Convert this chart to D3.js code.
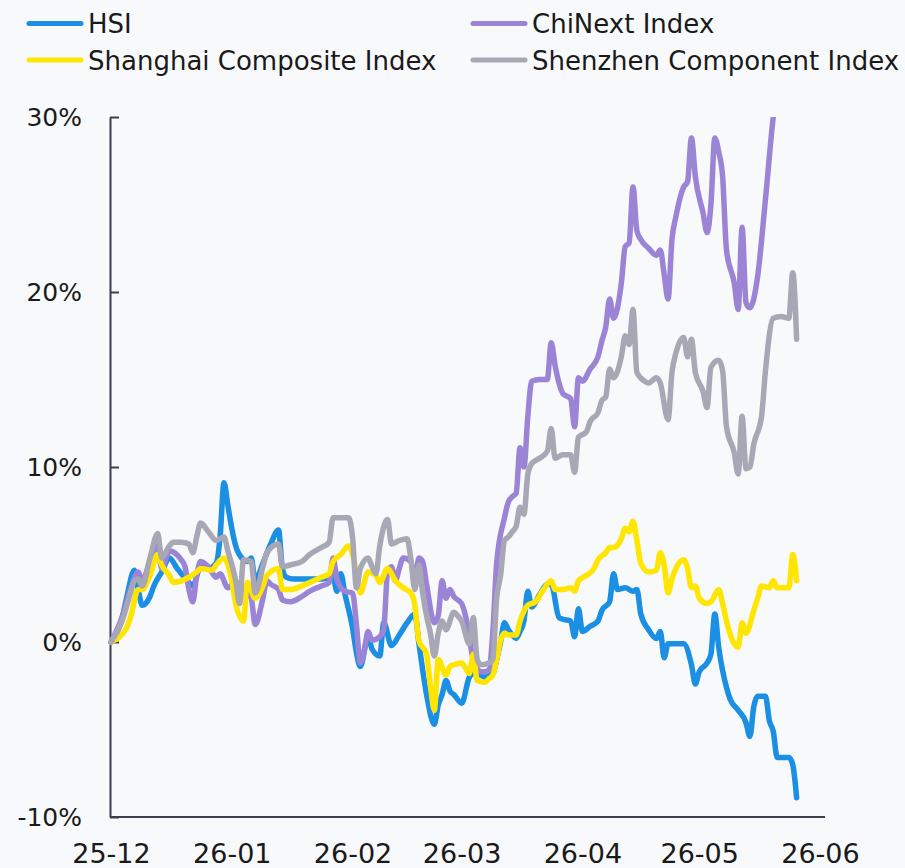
<!DOCTYPE html>
<html>
<head>
<meta charset="utf-8">
<script src="https://cdn.jsdelivr.net/npm/d3@7"></script>
<style>
  html, body { margin: 0; padding: 0; background: #f8f9fb; }
  svg { display: block; }
  text { font-family: "DejaVu Sans", sans-serif; fill: #1a1a1a; }
</style>
</head>
<body>
<svg id="chart" width="905" height="868"></svg>
<script>
// ---------- DATA ----------
const startDate = "2025-12-01";           // day 0
const seriesNames = ["HSI", "ChiNext Index", "Shanghai Composite Index", "Shenzhen Component Index"];
const seriesColors = ["#1a8fe3", "#9b84d6", "#ffe500", "#a8a7b5"];
const yTicks = [-10, 0, 10, 20, 30];
const xTickLabels = ["25-12", "26-01", "26-02", "26-03", "26-04", "26-05", "26-06"];

// day offsets from startDate and cumulative returns (%)
const hsiDays = [0,3,4,6,7,8,10,11,13,15,17,20,21,23,25,27,28,29,30,31,32,34,35,36,37,39,41,43,44,45,47,51,54,57,58,59,60,62,63,64,66,67,69,70,72,74,76,78,79,81,83,84,85,86,87,88,90,92,93,95,96,98,99,100,101,102,103,104,105,106,107,108,110,112,113,115,116,118,119,120,121,123,125,126,128,129,130,132,134,135,136,138,140,141,142,143,145,147,149,150,151,153,154,155,156,158,159,161,163,164,165,166,168,169,170,171,174,175,176];
const hsiValues = [0,1.5,2.5,4.1,3.0,2.1,2.6,3.2,4.0,4.8,4.2,3.4,3.2,4.3,4.2,4.5,6.0,9.1,7.8,6.5,5.5,4.7,4.6,4.8,3.5,4.5,5.6,6.4,4.2,3.7,3.6,3.6,3.6,3.7,2.9,3.9,2.8,0.8,-0.6,-1.4,0.3,-0.4,-0.8,1.1,-0.2,0.4,1.1,1.6,0.0,-3.0,-4.7,-3.6,-3.0,-2.2,-2.8,-3.0,-3.5,-2.0,-1.8,-1.9,-2.0,-1.8,-1.0,0.0,1.1,0.7,0.4,0.2,0.6,1.2,2.9,2.0,2.7,3.3,3.3,1.4,1.3,1.2,0.3,1.9,0.6,0.9,1.2,1.8,2.3,3.9,3.0,3.1,2.9,3.0,1.6,0.7,0.2,0.6,-0.9,-0.1,-0.1,-0.1,-1.3,-2.4,-1.7,-1.2,-0.7,1.6,-0.3,-2.6,-3.3,-3.9,-4.6,-5.4,-3.7,-3.1,-3.1,-4.5,-5.1,-6.6,-6.6,-7.0,-8.9];

const chinextDays = [0,3,5,7,8,10,12,13,15,18,19,20,21,22,23,25,27,28,30,32,34,36,37,39,40,41,43,44,46,49,51,54,56,57,58,59,60,62,63,64,65,66,67,69,70,71,72,73,74,75,77,78,79,80,81,83,84,85,86,87,88,90,91,93,95,96,97,98,99,101,102,103,104,105,106,107,108,110,112,113,114,115,116,118,119,120,121,123,125,126,127,128,129,131,132,133,134,135,136,138,140,141,142,143,144,145,147,148,149,150,152,153,154,155,156,157,158,160,161,162,163,164,166,168,170,172,174,176];
const chinextValues = [0,1.5,3.0,4.0,3.5,4.6,5.5,4.2,5.2,4.7,4.3,3.0,2.3,3.8,4.6,4.3,3.7,3.9,3.1,3.4,3.0,2.5,1.0,2.5,3.5,3.3,3.0,2.4,2.3,2.6,2.9,3.2,3.4,4.8,3.6,3.1,2.9,2.8,1.0,-1.2,-0.5,0.6,0.1,0.3,0.7,4.0,4.3,3.5,4.2,4.8,4.6,3.2,4.8,4.6,3.3,1.1,1.5,3.5,2.5,3.0,2.6,2.2,1.5,-1.0,-1.7,-1.7,-1.6,0.5,4.5,7.1,8.0,8.3,8.5,11.1,10.0,12.9,14.9,15.0,15.0,17.1,15.8,14.8,14.2,13.9,12.3,15.1,14.9,15.6,16.3,17.2,18.0,19.6,18.5,20.5,22.6,22.8,26.0,23.5,23.0,22.5,22.1,22.4,21.0,19.6,23.0,24.3,26.0,26.3,28.8,26.6,24.5,23.4,25.0,28.8,28.0,26.6,22.4,20.5,19.0,23.7,19.4,19.1,20.9,25.3,30.0,33.0,35.0,35.0];

const shanghaiDays = [0,4,5,7,8,10,12,13,15,16,20,22,23,26,27,29,31,32,34,35,37,39,40,43,44,46,49,51,54,56,57,59,61,63,64,66,68,69,71,73,75,77,78,79,81,82,83,84,86,87,88,90,92,93,94,96,97,98,99,100,101,102,104,105,107,109,111,113,114,116,118,119,120,122,124,125,127,128,129,131,132,133,134,135,136,138,140,141,142,143,144,145,147,148,149,150,151,153,154,156,157,158,159,161,162,163,165,166,167,169,170,171,174,175,176];
const shanghaiValues = [0,0.8,1.4,3.0,3.0,3.8,5.0,4.4,3.8,3.4,3.7,4.0,4.2,4.1,4.4,4.8,3.5,2.2,1.2,3.4,2.5,3.2,3.8,4.2,3.0,3.0,3.2,3.4,3.7,3.9,4.6,5.0,5.5,4.0,2.8,4.0,3.8,3.4,4.2,3.5,3.1,2.8,2.1,0.1,-0.7,-2.5,-3.9,-1.0,-1.9,-1.4,-1.3,-1.2,-1.8,-0.7,-2.2,-2.3,-2.1,-1.9,-1.0,0.1,0.5,0.4,0.4,1.2,2.1,2.3,3.0,3.5,3.0,3.0,3.1,2.9,3.5,3.8,4.2,4.7,5.1,5.4,5.4,5.9,6.5,6.3,6.9,5.8,4.5,4.0,4.1,5.1,4.4,2.8,3.6,4.2,4.7,4.2,3.1,3.2,2.5,2.2,2.3,3.0,2.2,1.2,0.4,-0.3,1.1,0.5,1.8,2.5,3.2,3.1,3.5,3.1,3.1,5.0,3.5];

const shenzhenDays = [0,3,5,6,7,8,10,12,13,15,16,18,20,21,22,23,25,27,29,30,32,33,34,36,37,39,40,43,44,46,49,51,54,56,57,59,61,62,63,64,66,67,68,69,71,72,74,76,77,78,79,80,81,82,83,84,85,86,88,89,90,92,93,94,95,97,98,99,100,101,102,103,104,105,106,107,108,110,112,113,114,116,118,119,120,122,123,125,126,127,128,129,131,132,133,134,135,137,138,140,141,143,144,145,147,148,149,150,152,153,154,156,157,158,160,161,162,163,164,165,167,168,170,172,174,175,176];
const shenzhenValues = [0,1.3,2.8,3.5,3.6,3.2,4.8,6.2,4.8,5.5,5.7,5.7,5.6,5.1,6.0,6.8,6.3,5.8,6.0,5.2,3.5,2.2,4.7,4.6,2.8,4.3,5.1,5.6,4.3,4.4,4.6,5.0,5.4,5.7,7.1,7.1,7.1,6.0,3.1,4.2,4.8,4.3,3.9,5.5,7.0,5.6,5.8,5.9,4.7,3.0,4.4,2.8,1.5,0.5,-0.8,0.5,1.2,0.7,1.7,1.5,1.2,-0.1,1.4,-1.0,-1.3,-1.2,-1.0,2.5,3.8,5.8,6.0,6.3,6.6,7.7,7.3,9.6,10.2,10.5,10.9,12.2,10.5,10.7,10.7,9.7,11.7,12.0,12.6,13.1,13.8,14.0,15.6,15.1,16.3,17.5,17.0,19.0,15.4,14.9,14.8,15.1,14.8,12.7,15.4,16.5,17.4,16.3,17.3,15.4,14.3,13.4,15.7,16.1,15.5,12.3,10.8,9.6,12.9,9.9,10.0,11.3,12.9,15.5,18.5,18.6,18.5,21.1,17.3];

const seriesDays = [hsiDays, chinextDays, shanghaiDays, shenzhenDays];
const seriesValues = [hsiValues, chinextValues, shanghaiValues, shenzhenValues];

// ---------- LAYOUT ----------
const svg = d3.select("#chart");
const plot = { left: 110, right: 825, top: 117, bottom: 817 };
const t0 = d3.timeParse("%Y-%m-%d")(startDate);
const toDate = d => d3.timeDay.offset(t0, d);

const x = d3.scaleTime()
  .domain([t0, d3.timeParse("%Y-%m-%d")("2026-06-01")])
  .range([111, 820]);
const y = d3.scaleLinear().domain([-10, 30]).range([plot.bottom, plot.top]);

svg.append("rect").attr("width", 905).attr("height", 868).attr("fill", "#f8f9fb");

// clip
svg.append("clipPath").attr("id", "plotClip")
  .append("rect")
  .attr("x", plot.left - 5).attr("y", plot.top)
  .attr("width", plot.right - plot.left + 10).attr("height", plot.bottom - plot.top + 5);

// axes
const yAxis = d3.axisLeft(y)
  .tickValues(yTicks)
  .tickFormat(d => d + "%")
  .tickSize(-9)
  .tickSizeOuter(0)
  .tickPadding(28);
const gy = svg.append("g").attr("transform", `translate(${plot.left},0)`).call(yAxis);
gy.select(".domain").attr("stroke", "#3d3d4b").attr("stroke-width", 2);
gy.selectAll(".tick line").attr("stroke", "#3d3d4b").attr("stroke-width", 2);
gy.selectAll("text").style("font-size", "25px").attr("fill", "#1a1a1a");

const monthTicks = d3.timeMonth.range(t0, toDate(183));
const xAxis = d3.axisBottom(x)
  .tickValues(monthTicks)
  .tickFormat((d, i) => xTickLabels[i])
  .tickSize(0)
  .tickSizeOuter(0)
  .tickPadding(27);
const gx = svg.append("g").attr("transform", `translate(0,${plot.bottom})`).call(xAxis);
gx.select(".domain").attr("d", `M${plot.left},0H${plot.right}`)
  .attr("stroke", "#3d3d4b").attr("stroke-width", 2);
gx.selectAll("text").style("font-size", "27px").attr("fill", "#1a1a1a");

// lines
const line = d3.line()
  .x(p => x(toDate(p[0])))
  .y(p => y(p[1]))
  .curve(d3.curveMonotoneX);

const drawOrder = [0, 1, 2, 3];
const gl = svg.append("g").attr("clip-path", "url(#plotClip)");
drawOrder.forEach(i => {
  const pts = seriesDays[i].map((d, k) => [d, seriesValues[i][k]]);
  gl.append("path")
    .datum(pts)
    .attr("d", line)
    .attr("fill", "none")
    .attr("stroke", seriesColors[i])
    .attr("stroke-width", 5.5)
    .attr("stroke-linejoin", "round")
    .attr("stroke-linecap", "round");
});

// legend
const legendPos = [
  { lx: 29, ty: 23.5 }, { lx: 473, ty: 23.5 },
  { lx: 29, ty: 60 },   { lx: 473, ty: 60 }
];
const lg = svg.append("g");
seriesNames.forEach((name, i) => {
  const p = legendPos[i];
  lg.append("line")
    .attr("x1", p.lx).attr("x2", p.lx + 52)
    .attr("y1", p.ty).attr("y2", p.ty)
    .attr("stroke", seriesColors[i]).attr("stroke-width", 5)
    .attr("stroke-linecap", "round");
  lg.append("text")
    .attr("x", p.lx + 59).attr("y", p.ty + 9.5)
    .style("font-size", "26px")
    .text(name);
});
</script>
</body>
</html>
